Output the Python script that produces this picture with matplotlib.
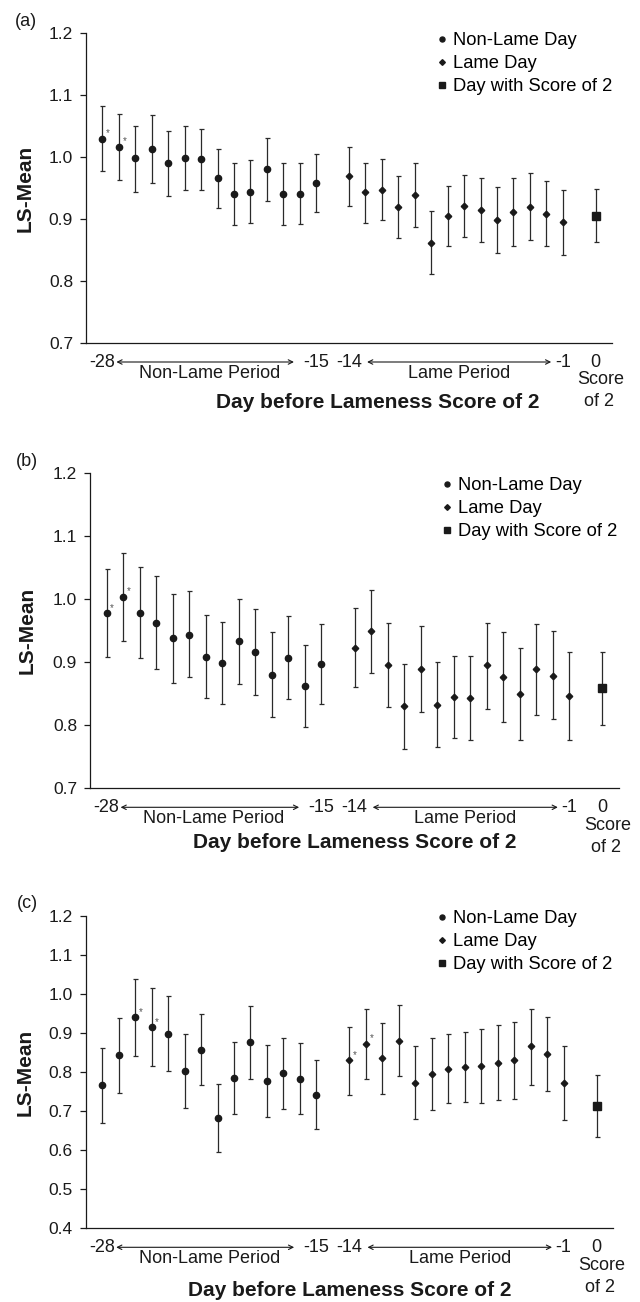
import matplotlib
matplotlib.use('Agg')
import matplotlib.pyplot as plt
from matplotlib.lines import Line2D
from matplotlib import transforms

plt.rcParams['font.family'] = ['Liberation Sans', 'DejaVu Sans']

# ---------------- data ----------------
days_nonlame = list(range(-28, -14))
days_lame = list(range(-14, 0))
day_score = [0]

tick_days = [-28, -15, -14, -1, 0]
tick_labels = ['-28', '-15', '-14', '-1', '0']

# Panel (a)
a_nl_mean = [1.030, 1.017, 0.998, 1.013, 0.990, 0.999, 0.997, 0.966, 0.940, 0.944, 0.981, 0.940, 0.941, 0.959]
a_nl_hi   = [1.082, 1.069, 1.051, 1.068, 1.043, 1.050, 1.046, 1.014, 0.991, 0.995, 1.031, 0.990, 0.990, 1.005]
a_nl_lo   = [0.977, 0.963, 0.944, 0.958, 0.937, 0.947, 0.947, 0.918, 0.890, 0.894, 0.930, 0.890, 0.892, 0.911]
a_l_mean  = [0.969, 0.943, 0.947, 0.919, 0.939, 0.862, 0.905, 0.921, 0.915, 0.899, 0.912, 0.920, 0.909, 0.895]
a_l_hi    = [1.016, 0.991, 0.997, 0.970, 0.990, 0.913, 0.953, 0.971, 0.966, 0.952, 0.966, 0.974, 0.961, 0.947]
a_l_lo    = [0.921, 0.894, 0.898, 0.869, 0.887, 0.811, 0.856, 0.871, 0.863, 0.845, 0.856, 0.867, 0.856, 0.842]
a_s_mean, a_s_hi, a_s_lo = [0.905], [0.948], [0.863]
a_star_days = [-28, -27]

# Panel (b)
b_nl_mean = [0.978, 1.004, 0.979, 0.963, 0.938, 0.944, 0.909, 0.899, 0.934, 0.916, 0.880, 0.907, 0.863, 0.897]
b_nl_hi   = [1.048, 1.074, 1.051, 1.037, 1.008, 1.013, 0.975, 0.964, 1.001, 0.984, 0.948, 0.973, 0.928, 0.960]
b_nl_lo   = [0.908, 0.934, 0.907, 0.890, 0.867, 0.876, 0.843, 0.834, 0.866, 0.848, 0.813, 0.841, 0.798, 0.834]
b_l_mean  = [0.923, 0.949, 0.895, 0.831, 0.889, 0.833, 0.845, 0.843, 0.895, 0.876, 0.849, 0.889, 0.879, 0.847]
b_l_hi    = [0.986, 1.014, 0.962, 0.898, 0.957, 0.900, 0.910, 0.910, 0.963, 0.948, 0.922, 0.961, 0.950, 0.917]
b_l_lo    = [0.860, 0.883, 0.829, 0.763, 0.821, 0.765, 0.780, 0.777, 0.826, 0.805, 0.776, 0.817, 0.810, 0.777]
b_s_mean, b_s_hi, b_s_lo = [0.859], [0.917], [0.801]
b_star_days = [-28, -27]

# Panel (c)
c_nl_mean = [0.766, 0.843, 0.940, 0.916, 0.898, 0.803, 0.858, 0.683, 0.786, 0.876, 0.778, 0.799, 0.783, 0.742]
c_nl_hi   = [0.861, 0.938, 1.038, 1.015, 0.994, 0.897, 0.950, 0.770, 0.878, 0.969, 0.870, 0.888, 0.874, 0.830]
c_nl_lo   = [0.671, 0.747, 0.841, 0.817, 0.802, 0.709, 0.768, 0.595, 0.693, 0.782, 0.686, 0.706, 0.693, 0.654]
c_l_mean  = [0.830, 0.873, 0.835, 0.881, 0.772, 0.796, 0.809, 0.814, 0.815, 0.823, 0.830, 0.866, 0.846, 0.772]
c_l_hi    = [0.916, 0.962, 0.927, 0.973, 0.866, 0.888, 0.897, 0.904, 0.910, 0.920, 0.929, 0.963, 0.942, 0.867]
c_l_lo    = [0.741, 0.782, 0.745, 0.789, 0.679, 0.704, 0.720, 0.723, 0.720, 0.728, 0.731, 0.768, 0.752, 0.677]
c_s_mean, c_s_hi, c_s_lo = [0.713], [0.793], [0.634]
c_star_days = [-26, -25, -14, -13]

legend_labels = ['Non-Lame Day', 'Lame Day', 'Day with Score of 2']

# ---------------- layout helpers ----------------
W, H = 640, 1302
fig = plt.figure(figsize=(W / 100, H / 100), dpi=100)
INK = '#1a1a1a'


def slot(d):
    # day -> position on category axis (gap between periods and before day 0)
    if d <= -15:
        return d + 28
    if d < 0:
        return d + 29
    return 30


def fx(px):
    return px / W


def fy(py):
    return 1 - py / H


def draw_panel(rect, letter, letter_pos, ylim, yticks,
               nl, l, s, star_days, legend_anchor, xlabel_pos, ylabel_x):
    left, top, right, bottom = rect
    ax = fig.add_axes([fx(left), fy(bottom), fx(right - left), (bottom - top) / H])
    ebkw = dict(color=INK, ecolor='#2a2a2a', elinewidth=0.9, capsize=1.8,
                capthick=0.9, ls='none')
    series = [(days_nonlame, nl, 'o', 4.5), (days_lame, l, 'D', 3.3),
              (day_score, s, 's', 5.3)]
    all_pts = {}
    for days, (m, hi, lo), mk, ms in series:
        xs = [slot(d) for d in days]
        yerr = [[mm - ll for mm, ll in zip(m, lo)], [hh - mm for mm, hh in zip(m, hi)]]
        ax.errorbar(xs, m, yerr=yerr, marker=mk, ms=ms, **ebkw)
        for d, mm in zip(days, m):
            all_pts.setdefault(d, mm)
    for d in star_days:
        ax.annotate('*', (slot(d), all_pts[d]), xytext=(2.6, 0.2),
                    textcoords='offset points', fontsize=7, color='#555555',
                    ha='left', va='bottom')

    ax.set_xlim(-1, 31)
    ax.set_ylim(*ylim)
    ax.set_yticks(yticks)
    ax.set_yticklabels([f'{v:.1f}' for v in yticks])
    ax.spines['top'].set_visible(False)
    ax.spines['right'].set_visible(False)
    for sp in ('left', 'bottom'):
        ax.spines[sp].set_linewidth(0.9)
        ax.spines[sp].set_color(INK)
    ax.tick_params(axis='y', length=4.3, width=0.9, pad=5, labelsize=12.5,
                   colors=INK)
    ax.set_xticks([slot(d) for d in tick_days])
    ax.set_xticklabels(tick_labels)
    ax.tick_params(axis='x', length=0, pad=8, labelsize=13, colors=INK)

    def below(px):
        return transforms.offset_copy(ax.get_xaxis_transform(), fig=fig,
                                      y=-px, units='dots')

    arrow = dict(arrowstyle='<->', lw=0.8, color=INK, shrinkA=0, shrinkB=0,
                 mutation_scale=8)
    ax.annotate('', xy=(0.85, 0), xycoords=below(19),
                xytext=(11.65, 0), textcoords=below(19), arrowprops=arrow)
    ax.annotate('', xy=(16.1, 0), xycoords=below(19),
                xytext=(27.3, 0), textcoords=below(19), arrowprops=arrow)
    ax.text(6.5, 0, 'Non-Lame Period', transform=below(30), ha='center',
            va='center', fontsize=13, color=INK)
    ax.text(21.7, 0, 'Lame Period', transform=below(30), ha='center',
            va='center', fontsize=13, color=INK)
    ax.text(30.3, 0, 'Score', transform=below(37), ha='center', va='center',
            fontsize=13, color=INK)
    ax.text(30.2, 0, 'of 2', transform=below(59), ha='center', va='center',
            fontsize=13, color=INK)

    fig.text(fx(xlabel_pos[0]), fy(xlabel_pos[1]), 'Day before Lameness Score of 2',
             ha='center', va='center', fontsize=15, fontweight='bold', color=INK)
    fig.text(fx(ylabel_x), fy((top + bottom) / 2), 'LS-Mean', rotation=90,
             ha='center', va='center', fontsize=15, fontweight='bold', color=INK)
    fig.text(fx(letter_pos[0]), fy(letter_pos[1]), letter, ha='center',
             va='center', fontsize=13, color=INK)

    handles = [Line2D([], [], ls='none', marker='o', ms=3.6, color=INK),
               Line2D([], [], ls='none', marker='D', ms=2.9, color=INK),
               Line2D([], [], ls='none', marker='s', ms=4.6, color=INK)]
    ax.legend(handles, legend_labels, loc='upper left',
              bbox_to_anchor=(fx(legend_anchor[0]), fy(legend_anchor[1])),
              bbox_transform=fig.transFigure, frameon=False, fontsize=13.2,
              handlelength=0.5, handletextpad=0.35, labelspacing=0.34,
              borderpad=0, borderaxespad=0)
    return ax


draw_panel((86, 33.3, 612, 343), '(a)', (26, 22), (0.7, 1.2),
           [0.7, 0.8, 0.9, 1.0, 1.1, 1.2],
           (a_nl_mean, a_nl_hi, a_nl_lo), (a_l_mean, a_l_hi, a_l_lo),
           (a_s_mean, a_s_hi, a_s_lo), a_star_days, (437, 32), (378, 403), 25)

draw_panel((90, 473.3, 619, 788.3), '(b)', (27, 462), (0.7, 1.2),
           [0.7, 0.8, 0.9, 1.0, 1.1, 1.2],
           (b_nl_mean, b_nl_hi, b_nl_lo), (b_l_mean, b_l_hi, b_l_lo),
           (b_s_mean, b_s_hi, b_s_lo), b_star_days, (442, 477), (355, 842), 27)

draw_panel((85.7, 916, 613, 1228.3), '(c)', (27, 903), (0.4, 1.2),
           [0.4, 0.5, 0.6, 0.7, 0.8, 0.9, 1.0, 1.1, 1.2],
           (c_nl_mean, c_nl_hi, c_nl_lo), (c_l_mean, c_l_hi, c_l_lo),
           (c_s_mean, c_s_hi, c_s_lo), c_star_days, (437, 910), (350, 1290), 25)

fig.savefig('out.png', dpi=100)
